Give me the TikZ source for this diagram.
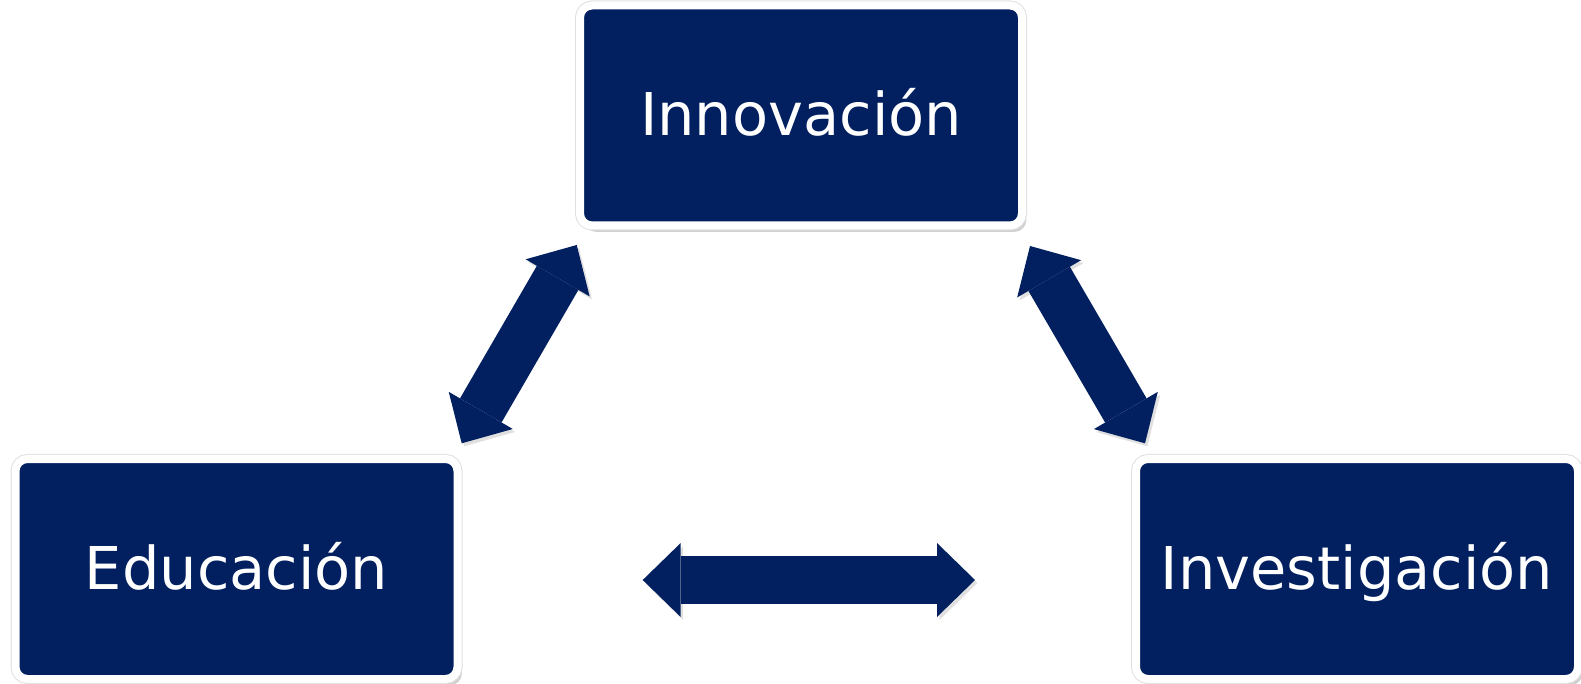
\documentclass[tikz,border=0pt]{standalone}
\usepackage{fontspec}
\setmainfont{DejaVu Sans}
\usetikzlibrary{arrows.meta,shadows}
\definecolor{navy}{HTML}{022060}
\begin{document}
\begin{tikzpicture}[x=0.5pt,y=-0.5pt,
  area/.style={draw=white, line width=4pt, fill=navy, rounded corners=6pt,
    minimum width=221pt, minimum height=110pt, text=white,
    text height=24pt, text depth=4pt,
    font=\fontsize{29.5}{34}\selectfont,
    drop shadow={shadow xshift=2.2pt, shadow yshift=-3.2pt, fill=black, opacity=.18},
    preaction={draw=black!12, line width=5pt}},
  link/.style={draw=navy, line width=24pt,
    {Triangle[width=37pt,length=19pt,line width=0pt]}-{Triangle[width=37pt,length=19pt,line width=0pt]},
    preaction={draw=black, opacity=.12, transform canvas={shift={(1.2pt,-1.5pt)}}}}]
\useasboundingbox (0,0) rectangle (1581,684);

\node[area] (inn) at (801,115.5) {Innovación};
\node[area] (edu) at (236.5,569) {Educación};
\node[area] (inv) at (1357,569) {Investigación};

\coordinate (ie1) at (576.7,245);
\coordinate (ie2) at (461.7,443.3);
\coordinate (iv1) at (1030,246);
\coordinate (iv2) at (1145,443.3);
\coordinate (ev1) at (642.7,580);
\coordinate (ev2) at (975,580);

\draw[link] (ie2) -- (ie1);
\draw[link] (iv1) -- (iv2);
\draw[link] (ev1) -- (ev2);
\end{tikzpicture}
\end{document}
